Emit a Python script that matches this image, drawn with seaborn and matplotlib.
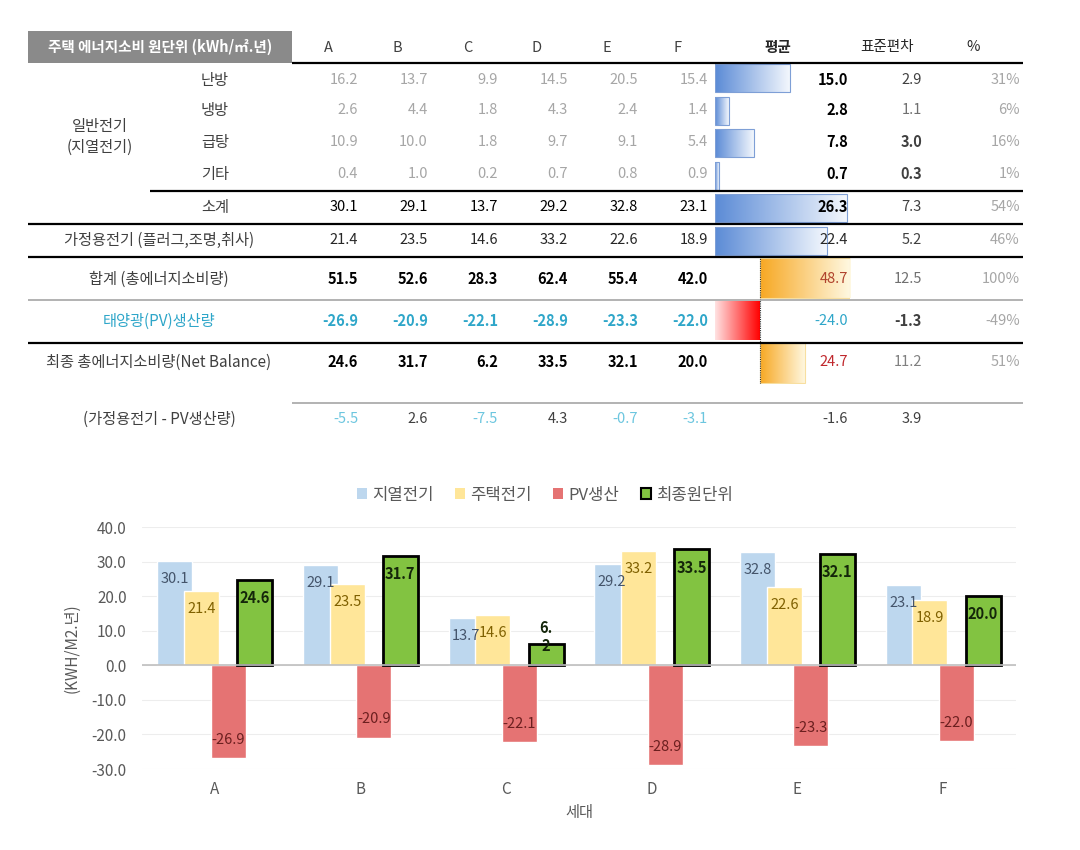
import numpy as np
import pandas as pd
import matplotlib
matplotlib.use('Agg')
import matplotlib.pyplot as plt
from matplotlib.colors import LinearSegmentedColormap
from matplotlib.patches import Rectangle
import seaborn as sns

# ---- data ----
households = ['A', 'B', 'C', 'D', 'E', 'F']
heating = [16.2, 13.7, 9.9, 14.5, 20.5, 15.4]
cooling = [2.6, 4.4, 1.8, 4.3, 2.4, 1.4]
hot_water = [10.9, 10.0, 1.8, 9.7, 9.1, 5.4]
other = [0.4, 1.0, 0.2, 0.7, 0.8, 0.9]
geo_subtotal = [30.1, 29.1, 13.7, 29.2, 32.8, 23.1]
home_elec = [21.4, 23.5, 14.6, 33.2, 22.6, 18.9]
total_use = [51.5, 52.6, 28.3, 62.4, 55.4, 42.0]
pv_prod = [-26.9, -20.9, -22.1, -28.9, -23.3, -22.0]
net_balance = [24.6, 31.7, 6.2, 33.5, 32.1, 20.0]
home_minus_pv = [-5.5, 2.6, -7.5, 4.3, -0.7, -3.1]

row_means = [15.0, 2.8, 7.8, 0.7, 26.3, 22.4, 48.7, -24.0, 24.7, -1.6]
row_stds = [2.9, 1.1, 3.0, 0.3, 7.3, 5.2, 12.5, -1.3, 11.2, 3.9]
row_shares = ['31%', '6%', '16%', '1%', '54%', '46%', '100%', '-49%', '51%', '']

table_title = '주택 에너지소비 원단위 (kWh/㎡.년)'
group_label = '일반전기\n(지열전기)'
sub_labels = ['난방', '냉방', '급탕', '기타', '소계']
row_labels = ['가정용전기 (플러그,조명,취사)', '합계 (총에너지소비량)', '태양광(PV)생산량',
              '최종 총에너지소비량(Net Balance)', '(가정용전기 - PV생산량)']
stat_headers = ['평균', '표준편차', '%']

series_names = ['지열전기', '주택전기', 'PV생산', '최종원단위']
bar_colors = ['#BDD7EE', '#FFE699', '#E57373', '#82C341']

# ---- style ----
sns.set_style('white')
plt.rcParams['font.family'] = ['Noto Sans CJK KR', 'DejaVu Sans']

W, H = 1080, 850
fig = plt.figure(figsize=(10.8, 8.5), dpi=100)

# table layer in pixel coordinates
tax = fig.add_axes([0, 0, 1, 1])
tax.set_xlim(0, W)
tax.set_ylim(H, 0)
tax.axis('off')
tax.set_zorder(3)

row_y = [80, 110, 142, 174, 207, 240, 279, 321, 362, 419]
col_right = [358, 428, 498, 568, 638, 708]
header_x = [328, 397, 468, 537, 607, 678]
TEAL = '#2EA6C9'
LIGHT = '#A6A6A6'
DARK = '#262626'
FS = 10.5

tax.add_patch(Rectangle((28, 31), 264, 32, facecolor='#8A8A8A', edgecolor='none'))
tax.text(160, 47, table_title, color='white', fontsize=10.5, fontweight='bold', ha='center', va='center')
for x, h in zip(header_x, households):
    tax.text(x, 48, h, color='#404040', fontsize=FS, ha='center', va='center')
for x, h, fw in zip([778, 887, 973], stat_headers, ['bold', 'normal', 'normal']):
    tax.text(x, 47, h, color=DARK, fontsize=FS, fontweight=fw, ha='center', va='center')

# horizontal rules
rules = [(292, 63, 'black', 1.6), (150, 191, 'black', 1.6), (28, 224, 'black', 1.6),
         (28, 257, 'black', 1.6), (28, 300, '#A6A6A6', 1.2), (28, 343, 'black', 1.6),
         (292, 403, '#A6A6A6', 1.2)]
for x0, y, c, lw in rules:
    tax.plot([x0, 1023], [y, y], color=c, lw=lw, solid_capstyle='butt')

# row labels
tax.text(100, 137, group_label, fontsize=11, color='#404040', ha='center', va='center',
         linespacing=1.3)
for y, lab in zip(row_y[:5], sub_labels):
    tax.text(215, y, lab, fontsize=11, color='#404040', ha='center', va='center')
for y, lab in zip(row_y[5:], row_labels):
    c = TEAL if 'PV)' in lab else '#404040'
    tax.text(159, y, lab, fontsize=11, color=c, ha='center', va='center')

# household values
table_rows = [heating, cooling, hot_water, other, geo_subtotal, home_elec,
              total_use, pv_prod, net_balance, home_minus_pv]
value_style = [('normal', LIGHT)] * 4 + [('medium', 'black'), ('normal', DARK),
               ('bold', 'black'), ('bold', TEAL), ('bold', 'black'), ('normal', None)]
for y, vals, (fw, c) in zip(row_y, table_rows, value_style):
    for x, v in zip(col_right, vals):
        cc = c if c else ('#6CC6DF' if v < 0 else '#404040')
        tax.text(x, y, f'{v:.1f}', fontsize=FS, fontweight=fw, color=cc, ha='right', va='center')

mean_style = [('bold', 'black')] * 5 + [('normal', DARK), ('normal', '#B0432E'),
              ('normal', TEAL), ('normal', '#C0282D'), ('normal', '#404040')]
std_style = [('normal', '#404040'), ('normal', '#707070'), ('bold', '#404040'), ('bold', '#404040'),
             ('normal', '#404040'), ('normal', '#404040'), ('normal', '#707070'),
             ('bold', '#404040'), ('normal', '#808080'), ('normal', '#404040')]
for y, m, s, p, (mw, mc), (sw, sc) in zip(row_y, row_means, row_stds, row_shares, mean_style, std_style):
    tax.text(848, y, f'{m:.1f}', fontsize=FS, fontweight=mw, color=mc, ha='right', va='center')
    tax.text(922, y, f'{s:.1f}', fontsize=FS, fontweight=sw, color=sc, ha='right', va='center')
    tax.text(1020, y, p, fontsize=FS, color=LIGHT, ha='right', va='center')


def gradient_fill(ax, cmap, edge):
    xl, yl = ax.get_xlim(), ax.get_ylim()
    grad = np.linspace(0, 1, 256).reshape(1, -1)
    for p in ax.patches:
        x0, y0, w, h = p.get_x(), p.get_y(), p.get_width(), p.get_height()
        im = ax.imshow(grad, cmap=cmap, extent=[x0, x0 + w, y0 + h, y0], aspect='auto',
                       interpolation='bicubic', zorder=0.5)
        im.set_clip_path(p)
        p.set_facecolor('none')
        p.set_edgecolor(edge)
        p.set_linewidth(0.8)
    ax.set_xlim(xl)
    ax.set_ylim(yl)


# in-cell data bars for the mean column
blue_rows = ['난방', '냉방', '급탕', '기타', '소계', '가정용전기']
bax = fig.add_axes([715 / W, 1 - 257 / H, 135 / W, 195 / H])
sns.barplot(x=row_means[:6], y=blue_rows, orient='h', width=0.86, color='#5A8AD6', ax=bax)
bax.set_xlim(0, 27)
gradient_fill(bax, LinearSegmentedColormap.from_list('b', ['#5B8BD6', '#F3F7FD']), '#7E9FD6')
bax.axis('off')

orange_rows = ['합계', 'PV', '최종']
oax = fig.add_axes([715 / W, 1 - 384 / H, 135 / W, 127 / H])
sns.barplot(x=row_means[6:9], y=orange_rows, orient='h', width=0.93, color='#F7A823', ax=oax)
oax.set_xlim(min(row_means[6:9]), max(row_means[6:9]))
ocmap = LinearSegmentedColormap.from_list('o', ['#F7A823', '#FFF9E3'])
rcmap = LinearSegmentedColormap.from_list('r', ['#FF0000', '#FFE3E3'])
xl, yl = oax.get_xlim(), oax.get_ylim()
grad = np.linspace(0, 1, 256).reshape(1, -1)
for p in oax.patches:
    x0, y0, w, h = p.get_x(), p.get_y(), p.get_width(), p.get_height()
    neg = w < 0
    im = oax.imshow(grad, cmap=rcmap if neg else ocmap, extent=[x0, x0 + w, y0 + h, y0],
                    aspect='auto', interpolation='bicubic', zorder=0.5)
    im.set_clip_path(p)
    p.set_facecolor('none')
    p.set_edgecolor('none' if neg else '#F8DFA0')
    p.set_linewidth(0.8)
oax.set_xlim(xl)
oax.set_ylim(yl)
oax.axvline(0, color='#333333', lw=0.8, ls=(0, (1, 1)))
oax.axis('off')

# ---- bar chart ----
chart_df = pd.DataFrame({
    '세대': households * 4,
    '값': geo_subtotal + home_elec + pv_prod + net_balance,
    '계열': np.repeat(series_names, len(households)),
})
ax = fig.add_axes([142 / W, 1 - 769 / H, 874 / W, 242 / H])
sns.barplot(data=chart_df, x='세대', y='값', hue='계열', hue_order=series_names,
            palette=bar_colors, saturation=1, width=0.73, errorbar=None, legend=False, ax=ax)

# label colours follow series order: 지열, 주택, PV, 최종
label_colors = ['#44546A', '#7F6000', '#6B1F1F', '#14260A']
label_weights = ['normal', 'normal', 'normal', 'bold']
series_vals = [geo_subtotal, home_elec, pv_prod, net_balance]
for k, cont in enumerate(ax.containers):
    for j, bar in enumerate(cont):
        cx = bar.get_x() + bar.get_width() / 2
        bar.set_width(0.24)
        bar.set_x(cx - 0.12)
        if k == 3:
            bar.set_edgecolor('black')
            bar.set_linewidth(2)
        v = series_vals[k][j]
        txt = f'{v:.1f}'
        off = -13 if v >= 0 else 13
        if k == 3 and v < 8:
            txt = txt.replace('.', '.\n')
            off = 5
        ax.annotate(txt, (cx, v), xytext=(0, off), textcoords='offset points',
                    ha='center', va='center', fontsize=10.5, color=label_colors[k],
                    fontweight=label_weights[k], linespacing=1.1, zorder=5)

ax.set_xlim(-0.5, 5.5)
ax.set_ylim(-30, 40)
ax.set_yticks(np.arange(-30, 41, 10))
ax.set_yticklabels([f'{t:.1f}' for t in np.arange(-30, 41, 10)])
ax.yaxis.grid(True, color='#EDEDED', lw=0.8)
ax.set_axisbelow(True)
ax.axhline(0, color='#BFBFBF', lw=1.2, zorder=1.5)
sns.despine(ax=ax, left=True, bottom=True)
ax.tick_params(axis='y', length=0, labelsize=11, labelcolor='#595959', pad=11)
ax.tick_params(axis='x', length=0, labelsize=11, labelcolor='#595959', pad=9)
ax.set_xlabel('세대', fontsize=11, color='#595959', labelpad=4)
ax.set_ylabel('(KWH/M2.년)', fontsize=11, color='#595959', labelpad=8)

handles = [Rectangle((0, 0), 1, 1, facecolor=c, edgecolor='black' if i == 3 else 'none', lw=1.5)
           for i, c in enumerate(bar_colors)]
fig.legend(handles, series_names, loc='center', bbox_to_anchor=(545 / W, 1 - 495 / H), ncol=4,
           frameon=False, fontsize=12, handlelength=0.6, handleheight=0.6, handletextpad=0.3,
           columnspacing=1.3, labelcolor='#595959')

fig.savefig('out.png', dpi=100)
